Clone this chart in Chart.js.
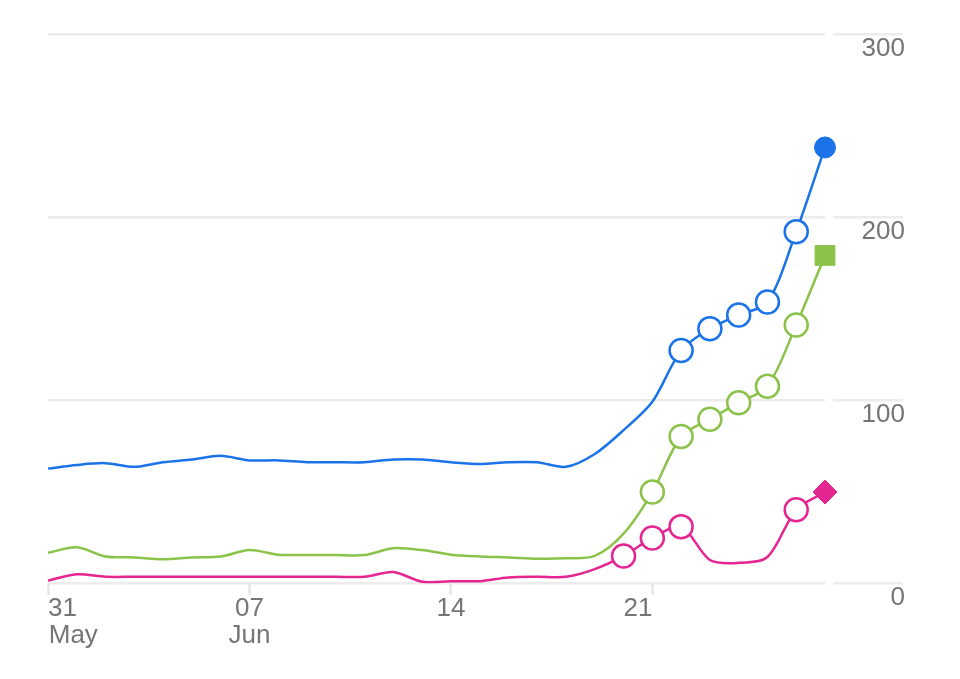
<!DOCTYPE html>
<html>
<head>
<meta charset="utf-8">
<script src="https://cdn.jsdelivr.net/npm/chart.js@4.4.1/dist/chart.umd.min.js"></script>
<style>
  html, body { margin: 0; padding: 0; background: #ffffff; }
  #wrap { width: 960px; height: 679px; position: relative; }
</style>
</head>
<body>
<div id="wrap"><canvas id="c"></canvas></div>
<script>
// Categories: one per day, 31 May .. 27 Jun
const days = [
  '31 May', '01 Jun', '02 Jun', '03 Jun', '04 Jun', '05 Jun', '06 Jun',
  '07 Jun', '08 Jun', '09 Jun', '10 Jun', '11 Jun', '12 Jun', '13 Jun',
  '14 Jun', '15 Jun', '16 Jun', '17 Jun', '18 Jun', '19 Jun', '20 Jun',
  '21 Jun', '22 Jun', '23 Jun', '24 Jun', '25 Jun', '26 Jun', '27 Jun'
];

// Series values
const blueValues = [
  62.5, 64.5, 65.5, 63.5, 66, 67.5, 69.5,
  67, 67, 66, 66, 66, 67.5, 67.5,
  66, 65, 66, 66, 63.5, 70.5, 83.5,
  99, 127, 139, 146.5, 153.5, 192, 238
];
const greenValues = [
  16.5, 19.5, 14.5, 14, 13, 14, 14.5,
  18, 15.5, 15.3, 15.3, 15.3, 19, 18,
  15.5, 14.5, 14, 13.3, 13.5, 14.8, 27,
  49.7, 80, 89.5, 98.5, 107.5, 141, 179
];
const pinkValues = [
  1.3, 4.8, 3.4, 3.4, 3.4, 3.4, 3.4,
  3.4, 3.4, 3.4, 3.4, 3.4, 6, 0.7,
  1, 1, 3, 3.4, 3.4, 7.6, 14.8,
  24.6, 30.8, 12.6, 11, 14.2, 40, 49.7
];

// Days that carry an open-circle marker in each series
const blueMarked = [22, 23, 24, 25, 26];
const greenMarked = [21, 22, 23, 24, 25, 26];
const pinkMarked = [20, 21, 22, 26];

// Axis tick labels
const xTickDays = [0, 7, 14, 21];
const xTickLabels = [['31', 'May'], ['07', 'Jun'], ['14'], ['21']];
const yTickValues = [0, 100, 200, 300];

const BLUE = '#1a73e8';
const GREEN = '#8bc34a';
const PINK = '#e52592';
const LABEL = '#757575';
const GRID = '#ececec';
const FONT = '"Liberation Sans", Arial, sans-serif';

function makeSeries(values, marked, color, endStyle, endRadius) {
  const last = values.length - 1;
  return {
    data: values,
    borderColor: color,
    borderWidth: 2.5,
    tension: 0.3,
    clip: false,
    pointStyle: c => (c.dataIndex === last ? endStyle : 'circle'),
    pointRadius: c => (c.dataIndex === last ? endRadius : (marked.includes(c.dataIndex) ? 11.5 : 0)),
    pointHoverRadius: c => (c.dataIndex === last ? endRadius : (marked.includes(c.dataIndex) ? 11.5 : 0)),
    pointBackgroundColor: c => (c.dataIndex === last ? color : '#ffffff'),
    pointBorderColor: color,
    pointBorderWidth: c => (c.dataIndex === last ? 1 : 2.5)
  };
}

// white gap between the plot-area grid lines and the right-hand tick stubs
const gapPlugin = {
  id: 'gridGap',
  beforeDatasetsDraw(chart) {
    const a = chart.chartArea;
    const ctx = chart.ctx;
    ctx.save();
    ctx.fillStyle = '#ffffff';
    ctx.fillRect(a.right, a.top - 4, 8, a.bottom - a.top + 8);
    ctx.restore();
  }
};

new Chart(document.getElementById('c'), {
  type: 'line',
  data: {
    labels: days,
    datasets: [
      makeSeries(blueValues, blueMarked, BLUE, 'circle', 10.5),
      makeSeries(greenValues, greenMarked, GREEN, 'rect', 14),
      makeSeries(pinkValues, pinkMarked, PINK, 'rectRot', 12)
    ]
  },
  options: {
    responsive: true,
    maintainAspectRatio: false,
    animation: false,
    events: [],
    layout: { padding: { left: 48, right: 55, top: 34, bottom: 0 } },
    plugins: { legend: { display: false }, tooltip: { enabled: false } },
    scales: {
      x: {
        type: 'category',
        offset: false,
        border: { display: false },
        grid: {
          drawOnChartArea: false,
          drawTicks: true,
          tickLength: 12,
          tickWidth: 2.5,
          tickColor: '#e6e6e6',
          color: '#e6e6e6'
        },
        ticks: {
          autoSkip: false,
          maxRotation: 0,
          minRotation: 0,
          padding: 0,
          color: LABEL,
          font: { family: FONT, size: 26, lineHeight: 1.04 },
          callback: function (value, index) {
            const k = xTickDays.indexOf(index);
            if (k < 0) return null;
            const lab = xTickLabels[k];
            if (k === 0) return lab.map(s => ' '.repeat(s.length === 2 ? 4 : 7) + s);
            if (k === xTickDays.length - 1) return lab.map(s => s + '    ');
            return lab;
          }
        },
        afterFit: s => { s.height = 96; s.paddingLeft = 0; s.paddingRight = 0; }
      },
      y: {
        position: 'right',
        min: 0,
        max: 300,
        border: { display: false },
        grid: {
          color: GRID,
          lineWidth: 2.5,
          drawTicks: true,
          tickLength: 78,
          tickColor: GRID,
          tickWidth: 2.5
        },
        afterBuildTicks: s => { s.ticks = yTickValues.map(v => ({ value: v })); },
        ticks: {
          crossAlign: 'far',
          labelOffset: 15,
          padding: 0,
          color: LABEL,
          font: { family: FONT, size: 26 }
        },
        afterFit: s => { s.width = 80; }
      }
    }
  },
  plugins: [gapPlugin]
});
</script>
</body>
</html>
